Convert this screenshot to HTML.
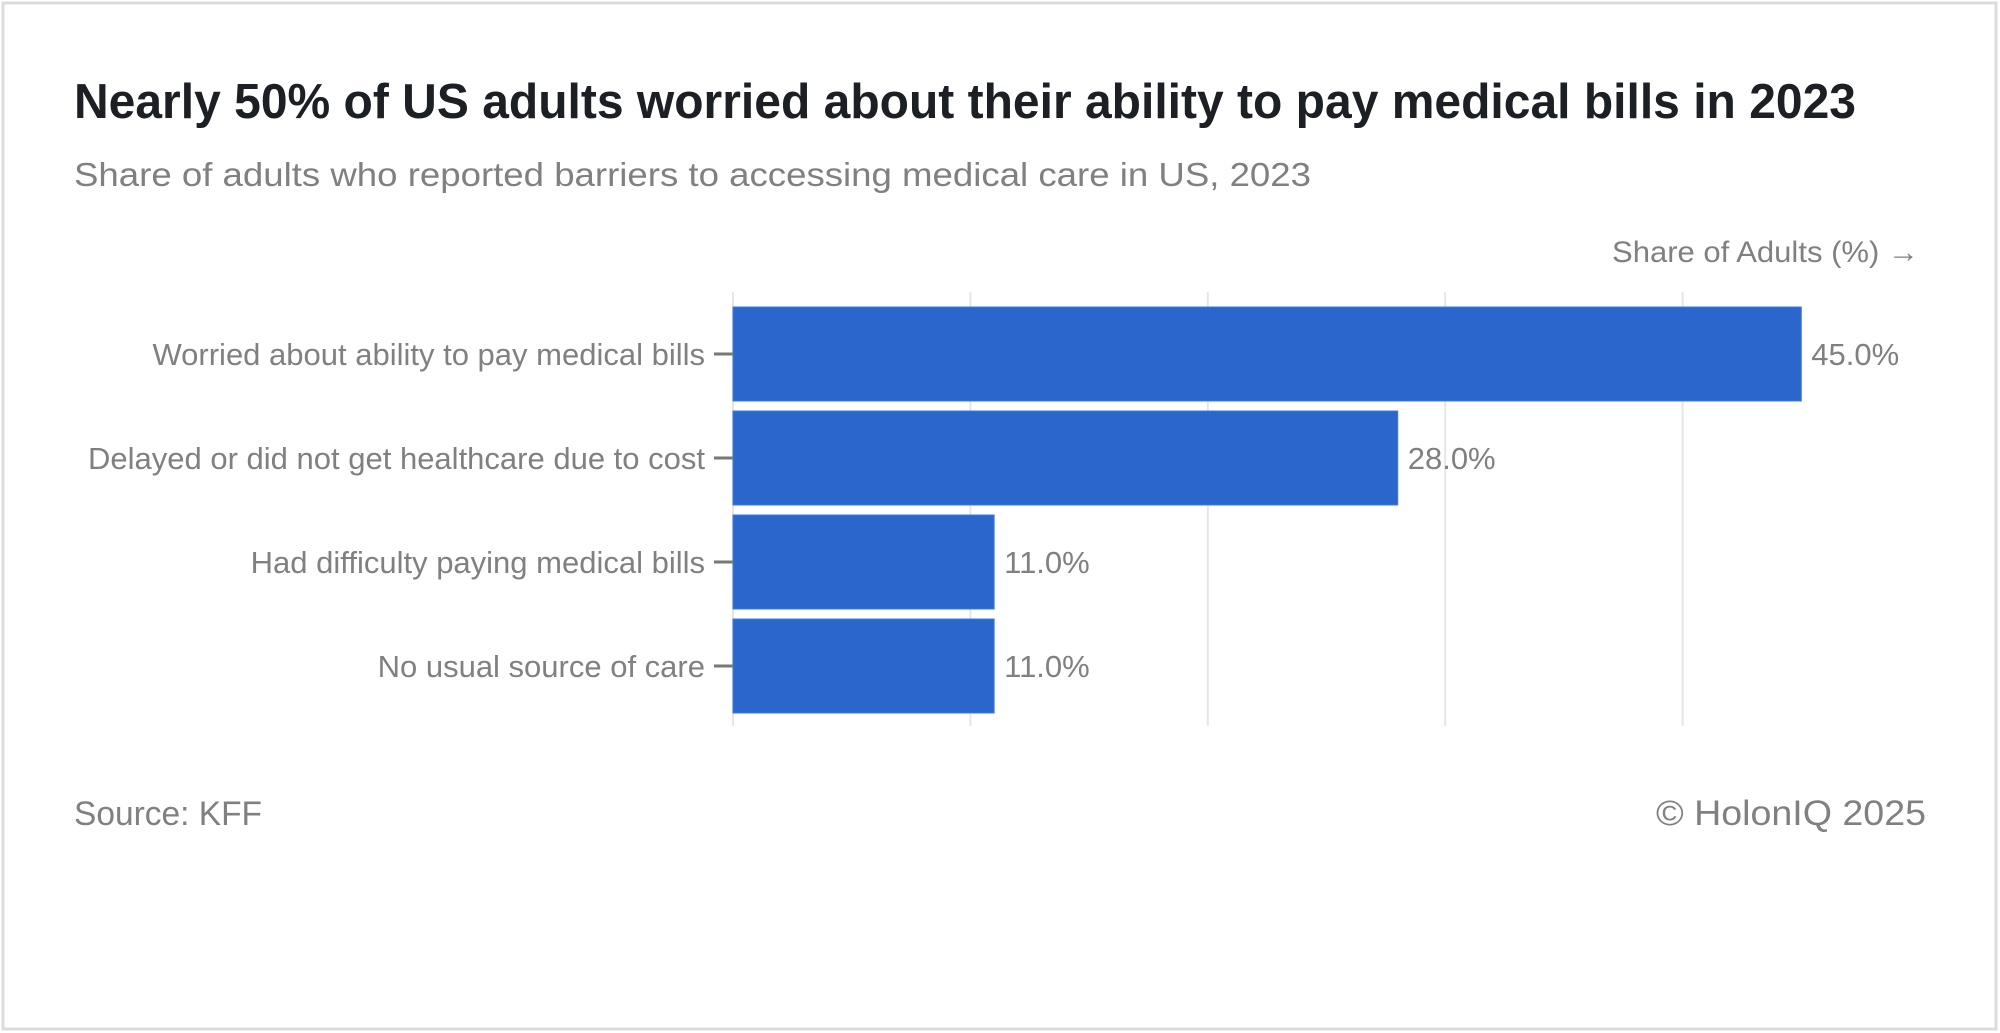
<!DOCTYPE html>
<html><head><meta charset="utf-8"><style>
html,body{margin:0;padding:0;background:#fff;}
svg{display:block;}
</style></head><body>
<svg id="chart" width="2000" height="1033" viewBox="0 0 2000 1033" xmlns="http://www.w3.org/2000/svg">
<rect x="3" y="3" width="1993" height="1026" fill="#fff" stroke="#dcdcdc" stroke-width="3"/>
<text x="74" y="118" font-family="'Liberation Sans', sans-serif" font-weight="bold" font-size="49" fill="#1c1f24" textLength="1782" lengthAdjust="spacingAndGlyphs">Nearly 50% of US adults worried about their ability to pay medical bills in 2023</text>
<text x="74" y="186" font-family="'Liberation Sans', sans-serif" font-size="33" fill="#808080" textLength="1237" lengthAdjust="spacingAndGlyphs">Share of adults who reported barriers to accessing medical care in US, 2023</text>
<text x="1612" y="262" font-family="'Liberation Sans', sans-serif" font-size="30" fill="#808080" textLength="307" lengthAdjust="spacingAndGlyphs">Share of Adults (%) →</text>
<g id="grid"></g>
<g id="bars"></g>
<text x="74" y="825" font-family="'Liberation Sans', sans-serif" font-size="34" fill="#808080" textLength="188" lengthAdjust="spacingAndGlyphs">Source: KFF</text>
<text x="1656" y="825" font-family="'Liberation Sans', sans-serif" font-size="35" fill="#808080" textLength="270" lengthAdjust="spacingAndGlyphs">© HolonIQ 2025</text>
</svg>
<script>
const categories = ["Worried about ability to pay medical bills","Delayed or did not get healthcare due to cost","Had difficulty paying medical bills","No usual source of care"];
const values = [45, 28, 11, 11];
const gridTicks = [0, 10, 20, 30, 40];

const NS = "http://www.w3.org/2000/svg";
const x0 = 733, pxPer = 23.74;
const xScale = v => x0 + v * pxPer;
const bandTop = 302, band = 104, pad = 5;
const yBand = i => bandTop + i * band;

const grid = document.getElementById('grid');
gridTicks.forEach(t => {
  const l = document.createElementNS(NS, 'line');
  l.setAttribute('x1', xScale(t)); l.setAttribute('x2', xScale(t));
  l.setAttribute('y1', 292); l.setAttribute('y2', 726);
  l.setAttribute('stroke', '#e6e6e6'); l.setAttribute('stroke-width', 2);
  
  
  grid.appendChild(l);
});

const bars = document.getElementById('bars');
categories.forEach((c, i) => {
  const y = yBand(i) + pad, h = band - 2 * pad, cy = yBand(i) + band / 2;
  const r = document.createElementNS(NS, 'rect');
  r.setAttribute('x', x0); r.setAttribute('y', y);
  r.setAttribute('width', xScale(values[i]) - x0); r.setAttribute('height', h);
  r.setAttribute('fill', '#2a66cc'); r.setAttribute('stroke', '#3f7ae0'); r.setAttribute('stroke-width', 1);
  
  
  bars.appendChild(r);

  const tk = document.createElementNS(NS, 'line');
  tk.setAttribute('x1', 714); tk.setAttribute('x2', 733);
  tk.setAttribute('y1', cy); tk.setAttribute('y2', cy);
  tk.setAttribute('stroke', '#777'); tk.setAttribute('stroke-width', 3);
  
  
  bars.appendChild(tk);

  const lb = document.createElementNS(NS, 'text');
  lb.setAttribute('x', 705); lb.setAttribute('y', cy + 11);
  lb.setAttribute('text-anchor', 'end');
  lb.setAttribute('font-family', "'Liberation Sans', sans-serif");
  lb.setAttribute('font-size', 31); lb.setAttribute('fill', '#808080');
  lb.textContent = c;
  
  
  bars.appendChild(lb);

  const vl = document.createElementNS(NS, 'text');
  vl.setAttribute('x', xScale(values[i]) + 10); vl.setAttribute('y', cy + 11);
  vl.setAttribute('font-family', "'Liberation Sans', sans-serif");
  vl.setAttribute('font-size', 31); vl.setAttribute('fill', '#808080');
  vl.textContent = values[i].toFixed(1) + '%';
  
  
  bars.appendChild(vl);
});
</script>
</body></html>
